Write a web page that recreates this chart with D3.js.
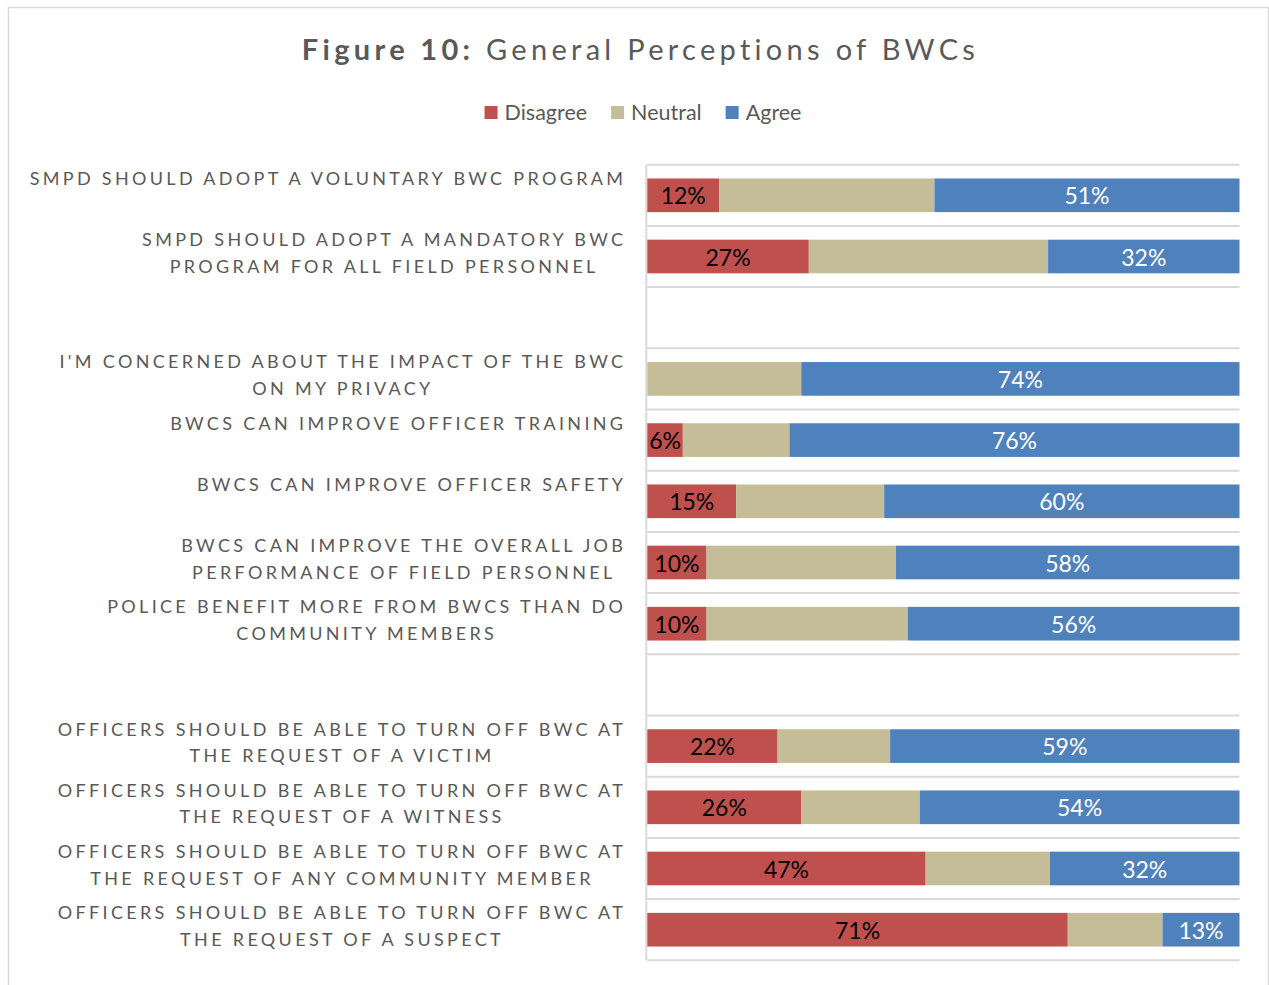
<!DOCTYPE html>
<html>
<head>
<meta charset="utf-8">
<script src="https://cdn.jsdelivr.net/npm/d3@7"></script>
<style>
  html, body { margin: 0; padding: 0; background: #fff; }
  svg { display: block; }
</style>
</head>
<body>
<svg id="chart" width="1269" height="985"></svg>
<script>
// Survey statements, top to bottom; empty entries are spacer rows between groups.
const statements = [
  ["SMPD SHOULD ADOPT A VOLUNTARY BWC PROGRAM"],
  ["SMPD SHOULD ADOPT A MANDATORY BWC", "PROGRAM FOR ALL FIELD PERSONNEL"],
  [],
  ["I'M CONCERNED ABOUT THE IMPACT OF THE BWC", "ON MY PRIVACY"],
  ["BWCS CAN IMPROVE OFFICER TRAINING"],
  ["BWCS CAN IMPROVE OFFICER SAFETY"],
  ["BWCS CAN IMPROVE THE OVERALL JOB", "PERFORMANCE OF FIELD PERSONNEL"],
  ["POLICE BENEFIT MORE FROM BWCS THAN DO", "COMMUNITY MEMBERS"],
  [],
  ["OFFICERS SHOULD BE ABLE TO TURN OFF BWC AT", "THE REQUEST OF A VICTIM"],
  ["OFFICERS SHOULD BE ABLE TO TURN OFF BWC AT", "THE REQUEST OF A WITNESS"],
  ["OFFICERS SHOULD BE ABLE TO TURN OFF BWC AT", "THE REQUEST OF ANY COMMUNITY MEMBER"],
  ["OFFICERS SHOULD BE ABLE TO TURN OFF BWC AT", "THE REQUEST OF A SUSPECT"]
];

// Response shares (%), one value per statement; null marks a spacer row.
const disagree = [12, 27, null, 0, 6, 15, 10, 10, null, 22, 26, 47, 71];
const neutral  = [36, 40, null, 26, 18, 25, 32, 34, null, 19, 20, 21, 16];
const agree    = [51, 32, null, 74, 76, 60, 58, 56, null, 59, 54, 32, 13];

const seriesNames  = ["Disagree", "Neutral", "Agree"];
const seriesColors = ["#C0504D", "#C4BD97", "#4F81BD"];
const labelColors  = ["#000000", null, "#FFFFFF"];

const titleBold = "Figure 10:";
const titleRest = " General Perceptions of BWCs";

const FONT = "Lato, 'Open Sans', sans-serif";
const TEXT_GREY = "#595959";
const GRID = "#D9D9D9";

const svg = d3.select("#chart");

// Outer chart frame
svg.append("rect")
  .attr("x", 8.5).attr("y", 7.5)
  .attr("width", 1260).attr("height", 1010)
  .attr("fill", "none").attr("stroke", GRID).attr("stroke-width", 1.5);

// Title
const title = svg.append("text")
  .attr("x", 638.5 + 2).attr("y", 60)
  .attr("text-anchor", "middle")
  .attr("font-family", FONT)
  .attr("font-size", 29)
  .attr("letter-spacing", 4.3)
  .attr("fill", TEXT_GREY);
title.append("tspan").attr("font-weight", 700).text(titleBold);
title.append("tspan").attr("font-weight", 400).text(titleRest);

// Table of rows built from the value arrays
const rows = statements.map((lines, i) => ({
  idx: i,
  lines,
  Disagree: disagree[i],
  Neutral: neutral[i],
  Agree: agree[i]
}));
const dataRows = rows.filter(r => r.Agree !== null);

const x = d3.scaleLinear().domain([0, 1]).range([647.3, 1239.5]);
const y = d3.scaleBand()
  .domain(rows.map(r => r.idx))
  .range([164.7, 960.3])
  .paddingInner(0.45)
  .paddingOuter(0.225);

const step = y.step();
const cellTop = i => y(i) - step * y.paddingInner() / 2;

// Horizontal gridlines at row boundaries
const gridYs = rows.map(r => cellTop(r.idx)).concat([cellTop(rows.length - 1) + step]);
svg.append("g").selectAll("line")
  .data(gridYs)
  .join("line")
  .attr("x1", x(0)).attr("x2", x(1))
  .attr("y1", d => d).attr("y2", d => d)
  .attr("stroke", GRID).attr("stroke-width", 2);

// Category axis line
svg.append("line")
  .attr("x1", x(0) - 1).attr("x2", x(0) - 1)
  .attr("y1", gridYs[0]).attr("y2", gridYs[gridYs.length - 1])
  .attr("stroke", GRID).attr("stroke-width", 2);

// 100% stacked layers
const stack = d3.stack().keys(seriesNames).offset(d3.stackOffsetExpand);
const layers = stack(dataRows);

const layerG = svg.append("g").selectAll("g")
  .data(layers)
  .join("g")
  .attr("fill", (d, i) => seriesColors[i]);

layerG.selectAll("rect")
  .data(d => d)
  .join("rect")
  .attr("x", d => x(d[0]))
  .attr("width", d => x(d[1]) - x(d[0]))
  .attr("y", d => y(d.data.idx))
  .attr("height", y.bandwidth());

// Value labels on Disagree and Agree segments
layers.forEach((layer, li) => {
  if (!labelColors[li]) return;
  svg.append("g").selectAll("text")
    .data(layer.filter(d => d.data[layer.key] > 0))
    .join("text")
    .attr("x", d => (x(d[0]) + x(d[1])) / 2)
    .attr("y", d => y(d.data.idx) + y.bandwidth() / 2 + 9)
    .attr("text-anchor", "middle")
    .attr("font-family", FONT)
    .attr("font-size", 23)
    .attr("fill", labelColors[li])
    .text(d => d.data[layer.key] + "%");
});

// Statement labels (multi-line, centred on each other, right-aligned as a block)
const labelLS = 3.33;
const labelRight = 623 + labelLS;
rows.filter(r => r.lines.length).forEach(r => {
  const g = svg.append("g");
  const texts = r.lines.map((line, li) => g.append("text")
    .attr("y", y(r.idx) + y.bandwidth() / 2 - 10.5 + li * 26.5)
    .attr("font-family", FONT)
    .attr("font-size", 18)
    .attr("letter-spacing", labelLS)
    .attr("fill", TEXT_GREY)
    .attr("text-anchor", "middle")
    .text(line));
  const widths = texts.map(t => t.node().getComputedTextLength());
  const maxW = d3.max(widths);
  texts.forEach(t => t.attr("x", labelRight - maxW / 2));
});

// Legend
const legend = svg.append("g");
const legendGap = 24;
let lx = 0;
seriesNames.forEach((name, i) => {
  const item = legend.append("g").attr("transform", `translate(${lx},0)`);
  item.append("rect")
    .attr("x", 0).attr("y", -7).attr("width", 13).attr("height", 13)
    .attr("fill", seriesColors[i]);
  const t = item.append("text")
    .attr("x", 20).attr("y", 7)
    .attr("font-family", FONT)
    .attr("font-size", 21.5)
    .attr("fill", TEXT_GREY)
    .text(name);
  lx += 20 + t.node().getComputedTextLength() + legendGap;
});
const legendW = lx - legendGap;
legend.attr("transform", `translate(${643 - legendW / 2},113)`);
</script>
</body>
</html>
